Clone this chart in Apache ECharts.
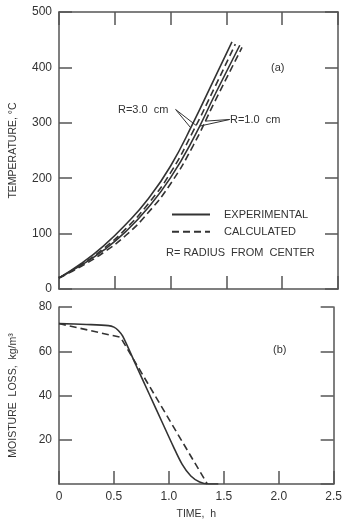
<!DOCTYPE html>
<html>
<head>
<meta charset="utf-8">
<script src="https://cdn.jsdelivr.net/npm/echarts@6/dist/echarts.min.js"></script>
<style>
  html, body { margin: 0; background: #fff; }
  #chart { width: 345px; height: 521px; }
</style>
</head>
<body>
<div id="chart"></div>
<script>
// (a) temperature, [time h, °C]
const tempR3Exp = [[0, 20], [0.2, 46], [0.4, 78], [0.6, 117], [0.8, 163], [1.0, 222], [1.2, 299], [1.4, 383], [1.55, 446]];
const tempR3Calc = [[0, 20], [0.2, 44], [0.4, 73], [0.6, 109], [0.8, 154], [1.0, 210], [1.2, 284], [1.4, 366], [1.58, 442]];
const tempR1Exp = [[0, 20], [0.2, 43], [0.4, 70], [0.6, 104], [0.8, 147], [1.0, 201], [1.2, 270], [1.4, 352], [1.62, 440]];
const tempR1Calc = [[0, 20], [0.2, 41], [0.4, 66], [0.6, 97], [0.8, 138], [1.0, 190], [1.2, 258], [1.4, 340], [1.64, 436]];

// (b) moisture loss, [time h, kg/m3]
const moistExp = [[0, 72.5], [0.25, 72.1], [0.45, 71.6], [0.5, 70.9], [0.54, 69.4], [0.58, 66.8], [0.7, 53.8], [0.82, 40.8], [0.94, 27.8], [1.04, 17], [1.12, 9], [1.2, 3.6], [1.28, 0.9], [1.36, 0], [1.45, 0]];
const moistCalc = [[0, 72.5], [0.56, 66.3], [1.35, 0]];

const timeTickLabels = ['0', '0.5', '1.0', '1.5', '2.0', '2.5'];

const ink = '#333';
const axisColor = '#555';
const font = 'Liberation Sans';
const dash = [7, 4];

const axisLine = { show: true, onZero: false, lineStyle: { color: axisColor, width: 1.5 } };
const tick = { show: true, inside: true, length: 13, lineStyle: { color: axisColor, width: 1.5 } };
const label = { color: ink, fontFamily: font, fontSize: 12, margin: 7 };
const nameStyle = { color: ink, fontFamily: font, fontSize: 10.5 };

function timeAxis(gridIndex, position, showLabel) {
  return {
    type: 'value', gridIndex, position, min: 0, max: 2.5, interval: 0.5,
    axisLine, axisTick: tick, splitLine: { show: false },
    axisLabel: { ...label, show: showLabel, formatter: v => timeTickLabels[Math.round(v / 0.5)] },
  };
}

function sideAxis(gridIndex, position, max, interval, showLabel) {
  return {
    type: 'value', gridIndex, position, min: 0, max, interval,
    axisLine, axisTick: tick, splitLine: { show: false },
    axisLabel: { ...label, show: showLabel, showMinLabel: gridIndex === 0 },
  };
}

function curve(name, data, xi, yi, dashed, smooth, extra) {
  return {
    type: 'line', name, data, xAxisIndex: xi, yAxisIndex: yi,
    symbol: 'none', showSymbol: false, smooth,
    lineStyle: { color: ink, width: 1.6, type: dashed ? dash : 'solid' },
    itemStyle: { color: ink },
    ...extra,
  };
}

function arrows(from, targets) {
  return {
    silent: true, symbol: ['none', 'arrow'], symbolSize: [0, 6],
    label: { show: false },
    lineStyle: { color: ink, width: 1, type: 'solid' },
    data: targets.map(t => [{ coord: from }, { coord: t }]),
  };
}

const chart = echarts.init(document.getElementById('chart'), null, { renderer: 'canvas' });

chart.setOption({
  animation: false,
  backgroundColor: '#fff',
  textStyle: { fontFamily: font },
  grid: [
    { left: 55, right: 7, top: 12, height: 277 },
    { left: 55, right: 7, top: 307, height: 177 },
  ],
  xAxis: [
    timeAxis(0, 'bottom', false),
    timeAxis(0, 'top', false),
    { ...timeAxis(1, 'bottom', true), name: 'TIME,  h', nameLocation: 'middle', nameGap: 25, nameTextStyle: nameStyle },
  ],
  yAxis: [
    { ...sideAxis(0, 'left', 500, 100, true), name: 'TEMPERATURE, °C', nameLocation: 'middle', nameGap: 40, nameTextStyle: nameStyle },
    sideAxis(0, 'right', 500, 100, false),
    { ...sideAxis(1, 'left', 80, 20, true), name: 'MOISTURE  LOSS,  kg/m³', nameLocation: 'middle', nameGap: 40, nameTextStyle: nameStyle },
    sideAxis(1, 'right', 80, 20, false),
  ],
  legend: {
    left: 166, top: 204, orient: 'vertical',
    itemWidth: 38, itemHeight: 14, itemGap: 6,
    selectedMode: false,
    itemStyle: { opacity: 0 },
    textStyle: { color: ink, fontFamily: font, fontSize: 11, padding: [0, 0, 0, 9] },
    data: ['EXPERIMENTAL', 'CALCULATED'],
  },
  graphic: [
    { type: 'text', left: 166, top: 247, style: { text: 'R= RADIUS  FROM  CENTER', fill: ink, font: '11px "Liberation Sans"' } },
    { type: 'text', left: 118, top: 104, style: { text: 'R=3.0  cm', fill: ink, font: '11px "Liberation Sans"' } },
    { type: 'text', left: 230, top: 114, style: { text: 'R=1.0  cm', fill: ink, font: '11px "Liberation Sans"' } },
    { type: 'text', left: 271, top: 62, style: { text: '(a)', fill: ink, font: '11px "Liberation Sans"' } },
    { type: 'text', left: 273, top: 344, style: { text: '(b)', fill: ink, font: '11px "Liberation Sans"' } },
  ],
  series: [
    curve('EXPERIMENTAL', tempR3Exp, 0, 0, false, true, {
      markLine: arrows([1.045, 324], [[1.18, 291], [1.23, 295]]),
    }),
    curve('CALCULATED', tempR3Calc, 0, 0, true, true),
    curve('EXPERIMENTAL', tempR1Exp, 0, 0, false, true, {
      markLine: arrows([1.53, 306], [[1.26, 294], [1.31, 303]]),
    }),
    curve('CALCULATED', tempR1Calc, 0, 0, true, true),
    curve('EXPERIMENTAL', moistExp, 2, 2, false, 0.3),
    curve('CALCULATED', moistCalc, 2, 2, true, false),
  ],
});
</script>
</body>
</html>
